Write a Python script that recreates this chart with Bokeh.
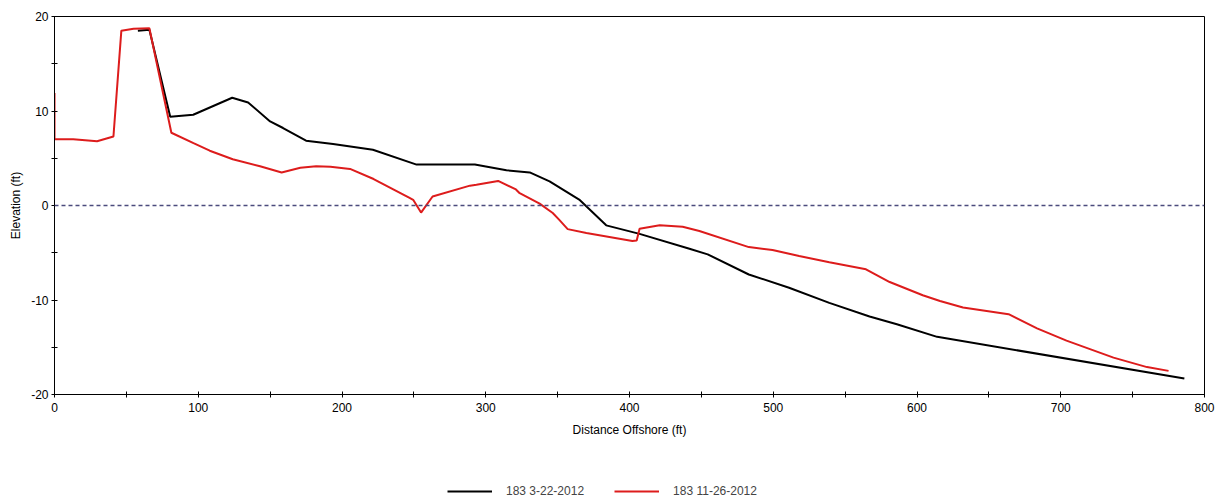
from bokeh.plotting import figure
from bokeh.models import Span, Legend, LegendItem, Range1d, FixedTicker
from bokeh.layouts import column
from bokeh.embed import file_html
from bokeh.resources import INLINE

# Profile 183, 3-22-2012
black_x = [58, 66, 80.5, 96.5, 123.6, 134.7, 150, 159, 175, 193.8, 221.5, 251.9, 292.4, 314.4,
           330.6, 344.4, 365, 383.8, 407, 441.7, 454.4, 483, 511, 539, 567, 586, 614, 786]
black_y = [18.5, 18.6, 9.4, 9.6, 11.4, 10.9, 8.9, 8.2, 6.86, 6.5, 5.9, 4.33, 4.33, 3.73,
           3.5, 2.56, 0.63, -2.1, -3.0, -4.57, -5.17, -7.3, -8.7, -10.3, -11.75, -12.56, -13.9, -18.3]

# Profile 183, 11-26-2012
red_x = [0, 0, 13, 29.6, 41, 46.5, 55, 66, 81.3, 96.7, 108, 124, 143, 158, 171, 182, 192, 205.6,
         222, 247, 249.5, 255, 263, 289, 293.5, 308.6, 321, 323.6, 337.5, 346.6, 351, 357, 370,
         402, 405, 407, 421, 437, 448.6, 483, 499.5, 518, 539, 564.5, 581, 604, 616, 632, 663.7,
         683.5, 704, 736.7, 760, 775]
red_y = [11.9, 7.0, 7.0, 6.8, 7.3, 18.5, 18.7, 18.75, 7.7, 6.6, 5.8, 4.9, 4.15, 3.5, 4.0, 4.15, 4.1, 3.87,
         2.8, 0.8, 0.6, -0.75, 0.95, 2.1, 2.2, 2.6, 1.7, 1.3, 0.2, -0.8, -1.5, -2.5, -2.9,
         -3.75, -3.7, -2.45, -2.1, -2.25, -2.7, -4.4, -4.7, -5.35, -6.0, -6.75, -8.1, -9.5, -10.1, -10.8, -11.5,
         -13.0, -14.3, -16.1, -17.1, -17.5]

series_labels = ["183 3-22-2012", "183 11-26-2012"]
series_colors = ["black", "#dd1c1c"]
x_ticks = [0, 100, 200, 300, 400, 500, 600, 700, 800]
x_minor = [50, 150, 250, 350, 450, 550, 650, 750]
y_ticks = [-20, -10, 0, 10, 20]
y_tick_labels = ["-20", "-10", "0", "10", "20"]
y_minor = [-15, -5, 5, 15]

FONT = "Liberation Sans"
W = 1220

p = figure(width=W, height=470, output_backend="svg", toolbar_location=None,
           x_range=Range1d(0, 800), y_range=Range1d(-20, 20),
           min_border_left=54, min_border_right=16, min_border_top=16, min_border_bottom=76)

p.xgrid.visible = False
p.ygrid.visible = False
p.outline_line_color = "black"
p.outline_line_width = 1
p.outline_line_alpha = 1

for ax in (p.xaxis[0], p.yaxis[0]):
    ax.major_label_text_font = FONT
    ax.major_label_text_font_size = "12px"
    ax.major_label_text_color = "black"
    ax.axis_label_text_font = FONT
    ax.axis_label_text_font_size = "12px"
    ax.axis_label_text_font_style = "normal"
    ax.axis_label_text_color = "black"
    ax.axis_line_color = "black"
    ax.major_tick_line_color = "black"
    ax.minor_tick_line_color = "black"
    ax.major_tick_in = 3
    ax.major_tick_out = 3
    ax.minor_tick_in = 3
    ax.minor_tick_out = 3

p.xaxis[0].ticker = FixedTicker(ticks=x_ticks, minor_ticks=x_minor)
p.yaxis[0].ticker = FixedTicker(ticks=y_ticks, minor_ticks=y_minor)
p.yaxis[0].major_label_overrides = {t: s for t, s in zip(y_ticks, y_tick_labels)}
p.xaxis[0].axis_label = "Distance Offshore (ft)"
p.yaxis[0].axis_label = "Elevation (ft)"
p.xaxis[0].major_label_standoff = 5
p.xaxis[0].axis_label_standoff = 8
p.yaxis[0].major_label_standoff = 3
p.yaxis[0].axis_label_standoff = 5

p.add_layout(Span(location=0, dimension="width", line_color="#4b4b7d",
                  line_dash="4 3", line_width=1.3))

p.line(black_x, black_y, line_color=series_colors[0], line_width=2)
p.line(red_x, red_y, line_color=series_colors[1], line_width=2)

# legend strip under the chart (its frame is aligned with the chart's frame)
lg = figure(width=W, height=28, output_backend="svg", toolbar_location=None,
            x_range=Range1d(0, 1), y_range=Range1d(0, 1),
            min_border_left=0, min_border_right=0, min_border_top=0, min_border_bottom=0)
lg.axis.visible = False
lg.xgrid.visible = False
lg.ygrid.visible = False
lg.outline_line_alpha = 0
# legend-only renderers, kept outside the visible range of the strip
lg_black = lg.line([5, 6], [5, 6], line_color=series_colors[0], line_width=2)
lg_red = lg.line([5, 6], [5, 6], line_color=series_colors[1], line_width=2)
legend = Legend(items=[LegendItem(label=series_labels[0], renderers=[lg_black]),
                       LegendItem(label=series_labels[1], renderers=[lg_red])],
                orientation="horizontal", location=(393, 0),
                label_text_font=FONT, label_text_font_size="12px",
                glyph_width=45, glyph_height=14, label_height=14, label_standoff=14, spacing=30,
                padding=0, margin=0, border_line_alpha=0, background_fill_alpha=0)
lg.add_layout(legend, "center")

open("out.html", "w").write(file_html(column(p, lg, spacing=0), INLINE))
